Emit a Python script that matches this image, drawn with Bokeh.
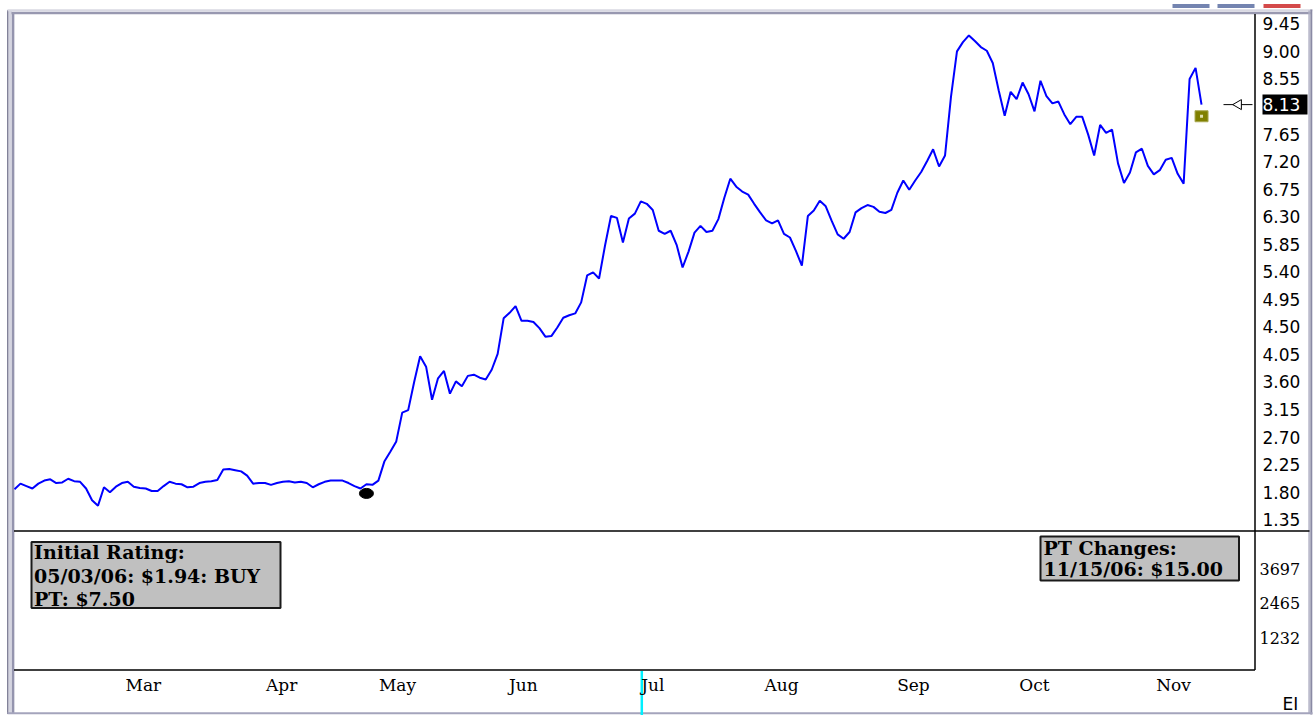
import math
from bokeh.plotting import figure
from bokeh.models import Range1d
from bokeh.core.properties import value
from bokeh.embed import file_html
from bokeh.resources import INLINE

# ---------------- data ----------------
# daily closing prices (trading-day index 0..199)
prices = [
    1.85, 1.94, 1.90, 1.86, 1.94, 1.99, 2.01, 1.95, 1.96, 2.02,
    1.98, 1.97, 1.86, 1.67, 1.58, 1.88, 1.80, 1.89, 1.95, 1.97,
    1.89, 1.87, 1.86, 1.82, 1.82, 1.90, 1.97, 1.94, 1.93, 1.88,
    1.89, 1.95, 1.97, 1.98, 2.00, 2.17, 2.18, 2.16, 2.14, 2.07,
    1.94, 1.95, 1.95, 1.92, 1.95, 1.97, 1.98, 1.96, 1.97, 1.95,
    1.88, 1.93, 1.97, 1.99, 1.99, 1.99, 1.95, 1.90, 1.86, 1.93,
    1.92, 1.99, 2.30, 2.46, 2.63, 3.10, 3.14, 3.60, 4.02, 3.85,
    3.31, 3.66, 3.78, 3.41, 3.61, 3.53, 3.70, 3.72, 3.67, 3.64,
    3.80, 4.06, 4.64, 4.73, 4.84, 4.60, 4.60, 4.58, 4.48, 4.34,
    4.35, 4.49, 4.65, 4.69, 4.72, 4.90, 5.34, 5.39, 5.29, 5.83,
    6.31, 6.28, 5.88, 6.27, 6.35, 6.55, 6.51, 6.41, 6.07, 6.02,
    6.07, 5.84, 5.47, 5.73, 6.04, 6.15, 6.05, 6.07, 6.26, 6.61,
    6.92, 6.79, 6.71, 6.66, 6.51, 6.37, 6.24, 6.19, 6.24, 6.02,
    5.96, 5.74, 5.50, 6.31, 6.40, 6.56, 6.47, 6.23, 6.01, 5.94,
    6.05, 6.37, 6.44, 6.49, 6.46, 6.38, 6.36, 6.41, 6.69, 6.89,
    6.74, 6.89, 7.03, 7.21, 7.40, 7.12, 7.30, 8.26, 9.00, 9.15,
    9.26, 9.17, 9.07, 9.01, 8.81, 8.36, 7.95, 8.34, 8.22, 8.49,
    8.30, 8.02, 8.52, 8.27, 8.15, 8.18, 7.97, 7.81, 7.93, 7.93,
    7.64, 7.30, 7.80, 7.67, 7.72, 7.17, 6.85, 7.02, 7.35, 7.41,
    7.13, 6.99, 7.06, 7.23, 7.26, 7.00, 6.84, 8.55, 8.73, 8.13,
]
days = list(range(len(prices)))

price_ticks = [9.45, 9.00, 8.55, 7.65, 7.20, 6.75, 6.30, 5.85, 5.40, 4.95,
               4.50, 4.05, 3.60, 3.15, 2.70, 2.25, 1.80, 1.35]
price_tick_labels = ["9.45", "9.00", "8.55", "7.65", "7.20", "6.75", "6.30", "5.85", "5.40", "4.95",
                     "4.50", "4.05", "3.60", "3.15", "2.70", "2.25", "1.80", "1.35"]
volume_ticks = [3697, 2465, 1232]
volume_tick_labels = ["3697", "2465", "1232"]

month_names = ["Mar", "Apr", "May", "Jun", "Jul", "Aug", "Sep", "Oct", "Nov"]
month_pos = [21.6, 44.8, 64.2, 85.3, 107.0, 128.6, 150.7, 171.0, 194.3]

rating_day = [59]
rating_mark = [1.78]
pt_day = [199]
pt_mark = [7.94]

initial_lines = ["Initial Rating:", "05/03/06: $1.94: BUY", "PT: $7.50"]
pt_lines = ["PT Changes:", "11/15/06: $15.00"]
corner_text = ["EI"]

# ---------------- page geometry (pixels -> data units) ----------------
W, H = 1314, 715
X0_PX, PX_PER_DAY = 14.0, 5.965           # x pixel of day 0, pixels per trading day
P_REF_PX, P_REF, PX_PER_PRICE = 23.3, 9.45, 61.23
V_REF_PX, V_REF, VOL_PER_PX = 568.3, 3697.0, 35.72


def px2x(px):
    return (px - X0_PX) / PX_PER_DAY


def py2p(py):
    return P_REF - (py - P_REF_PX) / PX_PER_PRICE


def py2v(py):
    return V_REF - (py - V_REF_PX) * VOL_PER_PX


p = figure(width=W, height=H,
           x_range=Range1d(px2x(0), px2x(W)), y_range=Range1d(py2p(H), py2p(0)),
           extra_y_ranges={"vol": Range1d(py2v(H), py2v(0))},
           x_axis_type=None, y_axis_type=None, output_backend="svg", toolbar_location=None,
           min_border=0, min_border_left=0, min_border_right=0, min_border_top=0, min_border_bottom=0)
p.outline_line_color = None
p.background_fill_color = "white"
p.border_fill_color = "white"
p.grid.visible = False


def seg(x0, y0, x1, y1, color, width):
    p.segment(x0=[px2x(x0)], y0=[py2p(y0)], x1=[px2x(x1)], y1=[py2p(y1)],
              line_color=color, line_width=width)


def box(l, t, r, b, fill, line=None, lw=0):
    p.quad(left=[px2x(l)], right=[px2x(r)], top=[py2p(t)], bottom=[py2p(b)],
           fill_color=fill, line_color=line, line_width=lw)


# window frame (bevel) ----------------------------------------------
box(1172, 3.5, 1209, 7.5, "#7484b0")
box(1217, 3.5, 1254, 7.5, "#7484b0")
box(1263, 3.5, 1300, 7.5, "#d44a4a")
seg(7.3, 9.5, 7.3, 713.5, "#7c7c94", 1.5)
seg(9.8, 10, 9.8, 713, "#d4d4e0", 3)
seg(12.6, 11.5, 12.6, 713, "#9494ae", 2.5)
seg(7, 9.8, 1312, 9.8, "#d8d8e2", 2)
seg(11, 12.4, 1310, 12.4, "#9898b0", 2.5)
seg(1308.6, 10, 1308.6, 713, "#b0b0c4", 1.5)
seg(1310.8, 9, 1310.8, 714, "#8a8aa4", 2)
seg(7, 712.8, 1312, 712.8, "#a4a4bc", 2)

# panel rules -------------------------------------------------------
seg(1254.5, 13.5, 1254.5, 669.5, "black", 1.5)
seg(13.5, 530.5, 1309, 530.5, "black", 1.5)
seg(13.5, 669.5, 1254.5, 669.5, "black", 1.5)

# cursor mark under "Jul"
seg(641.3, 670.5, 641.3, 715, "#00f0ff", 2.5)

# price line --------------------------------------------------------
p.line(days, prices, line_color="#0000ff", line_width=2)

# initial rating marker
p.ellipse(x=rating_day, y=rating_mark, width=14, height=10, width_units="screen",
          height_units="screen", fill_color="black", line_color="black")

# price target change marker
p.rect(x=pt_day, y=pt_mark, width=13, height=11, width_units="screen", height_units="screen",
       fill_color="#808000", line_color="#a8a850", line_width=1)
p.scatter(x=pt_day, y=pt_mark, marker="square", size=3, fill_color="#e0e0b0", line_color=None)

# last-price pointer and highlighted label
last_day = days[-1]
last_price = prices[-1]
p.segment(x0=[px2x(1223)], y0=[last_price], x1=[px2x(1252)], y1=[last_price],
          line_color="black", line_width=1)
p.scatter(x=[px2x(1238)], y=[last_price], marker="triangle", angle=math.pi / 2,
          size=10, fill_color="white", line_color="black", line_width=1)
p.rect(x=[px2x(1284.5)], y=[last_price], width=45, height=20, width_units="screen",
       height_units="screen", fill_color="black", line_color=None)
p.text(x=[px2x(1262)], y=[last_price], text=[f"{last_price:.2f}"], text_color="white",
       text_font=value("DejaVu Sans"), text_font_size=value("17px"),
       text_baseline="middle", text_align="left")

# price scale labels
p.text(x=[px2x(1262)] * len(price_ticks), y=price_ticks, text=price_tick_labels,
       text_color="black", text_font=value("DejaVu Sans"), text_font_size=value("17px"),
       text_baseline="middle", text_align="left")

# volume scale labels
p.text(x=[px2x(1259)] * len(volume_ticks), y=volume_ticks, text=volume_tick_labels,
       y_range_name="vol", text_color="black", text_font=value("DejaVu Serif"),
       text_font_size=value("16px"), text_baseline="middle", text_align="left")

# month labels
p.text(x=month_pos, y=[py2p(684)] * len(month_pos), text=month_names, text_color="black",
       text_font=value("DejaVu Serif"), text_font_size=value("17px"),
       text_baseline="middle", text_align="center")

# rating boxes
box(31, 541.5, 280, 607.5, "#c0c0c0", "#1a1a1a", 2)
p.text(x=[px2x(33.5)] * len(initial_lines), y=[py2p(551.5 + 23.5 * k) for k in range(len(initial_lines))],
       text=initial_lines, text_color="black", text_font=value("DejaVu Serif"),
       text_font_style="bold", text_font_size=value("19px"),
       text_baseline="middle", text_align="left")

box(1040, 536, 1238.5, 580, "#c0c0c0", "#1a1a1a", 2)
p.text(x=[px2x(1043)] * len(pt_lines), y=[py2p(547 + 21.5 * k) for k in range(len(pt_lines))],
       text=pt_lines, text_color="black", text_font=value("DejaVu Serif"),
       text_font_style="bold", text_font_size=value("19px"),
       text_baseline="middle", text_align="left")

# bottom-right corner mark
p.text(x=[px2x(1282)], y=[py2p(703)], text=corner_text, text_color="black",
       text_font=value("DejaVu Sans"), text_font_size=value("17px"),
       text_baseline="middle", text_align="left")

open("out.html", "w").write(file_html(p, INLINE))
